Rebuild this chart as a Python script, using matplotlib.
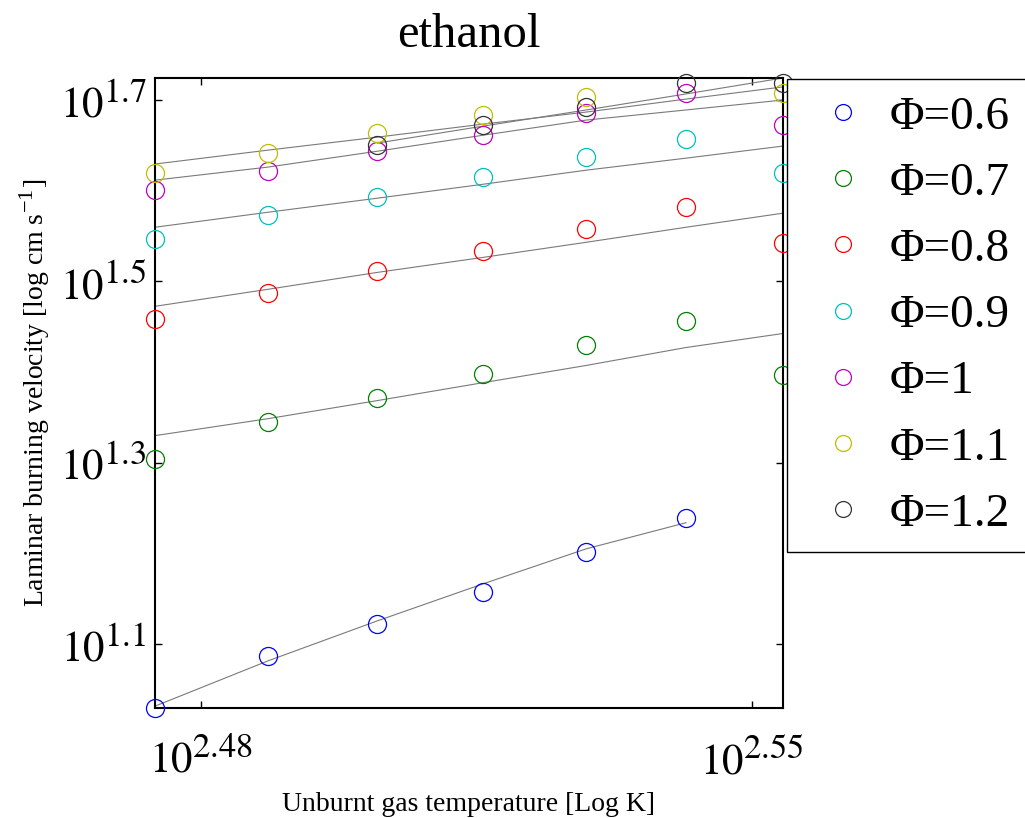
import numpy as np
import matplotlib.pyplot as plt
import matplotlib._mathtext as mathtext_core

plt.rcParams['font.family'] = ['Liberation Serif', 'DejaVu Serif']
plt.rcParams['mathtext.fontset'] = 'stix'
# superscripts in the original are a bit larger than matplotlib's default
mathtext_core.SHRINK_FACTOR = 0.8

# unburnt gas temperature [K]
T = [298, 308, 318, 328, 338, 348, 358]

# measured laminar burning velocity [cm/s], nan = no point
phi_06 = [10.70, 12.21, 13.25, 14.37, 15.91, 17.35, np.nan]
phi_07 = [20.16, 22.14, 23.54, 25.02, 26.87, 28.56, 24.90]
phi_08 = [28.71, 30.67, 32.43, 34.13, 36.10, 38.18, 34.83]
phi_09 = [35.19, 37.41, 39.16, 41.20, 43.35, 45.38, 41.62]
phi_10 = [39.86, 41.83, 44.01, 45.84, 48.48, 51.03, 47.03]
phi_11 = [41.62, 43.79, 46.08, 48.24, 50.51, np.nan, 51.03]
phi_12 = [np.nan, np.nan, 44.70, 47.03, 49.23, 52.34, 52.34]

# fitted curves (gray lines)
fit_06 = [10.75, 12.06, 13.35, 14.67, 16.03, 17.13, np.nan]
fit_07 = [21.37, 22.31, 23.36, 24.45, 25.54, 26.73, 27.70]
fit_08 = [29.68, 30.99, 32.35, 33.61, 34.92, 36.28, 37.60]
fit_09 = [36.28, 37.69, 39.06, 40.47, 41.94, 43.24, 44.59]
fit_10 = [40.89, 42.27, 44.01, 45.84, 47.63, 48.87, 50.12]
fit_11 = [42.60, 44.13, 45.61, 47.15, 48.61, 50.24, 51.82]
fit_12 = [np.nan, np.nan, 44.93, 46.91, 48.87, 50.90, 53.01]

labels = ['Φ=0.6', 'Φ=0.7', 'Φ=0.8', 'Φ=0.9', 'Φ=1', 'Φ=1.1', 'Φ=1.2']
colors = ['b', 'g', 'r', 'c', 'm', 'y', '#333333']

data = [phi_06, phi_07, phi_08, phi_09, phi_10, phi_11, phi_12]
fits = [fit_06, fit_07, fit_08, fit_09, fit_10, fit_11, fit_12]

fig = plt.figure(figsize=(10.25, 8.18), dpi=100)
ax = fig.add_axes([0.1512, 0.1345, 0.6127, 0.7702])

handles = []
for y, f, c, lab in zip(data, fits, colors, labels):
    h, = ax.plot(T, y, 'o', mfc='none', mec=c, ms=13, mew=0.9,
                 label=lab, clip_on=False, zorder=3)
    ax.plot(T, f, '-', color='#7a7a7a', lw=0.8, zorder=2)
    handles.append(h)

ax.set_xscale('log')
ax.set_yscale('log')
ax.set_xlim(min(T), max(T))
ymin = np.nanmin(data + fits)
ymax = np.nanmax(data + fits)
ax.set_ylim(ymin, ymax)

ax.set_xticks([10**2.48, 10**2.55], ['$10^{2.48}$', '$10^{2.55}$'])
ax.set_yticks([10**1.1, 10**1.3, 10**1.5, 10**1.7],
              ['$10^{1.1}$', '$10^{1.3}$', '$10^{1.5}$', '$10^{1.7}$'])
ax.xaxis.set_minor_locator(plt.NullLocator())
ax.yaxis.set_minor_locator(plt.NullLocator())
ax.tick_params(direction='in', top=True, right=True, length=5, width=1,
               labelsize=31)
ax.tick_params(axis='x', pad=22)
ax.tick_params(axis='y', pad=6)
for s in ax.spines.values():
    s.set_linewidth(1.5)

ax.set_title('ethanol', fontsize=35, pad=22)
ax.set_xlabel('Unburnt gas temperature [Log K]', fontsize=20, labelpad=7)
ax.set_ylabel('Laminar burning velocity [log cm s$^{\\mathregular{-1}}$]', fontsize=20, labelpad=6)

leg = fig.legend(handles=handles, loc='upper left',
                 bbox_to_anchor=(787 / 1025, 1 - 79 / 818), borderaxespad=0,
                 fontsize=34, frameon=True, fancybox=False, framealpha=1,
                 edgecolor='black', borderpad=0.35, handlelength=1.67,
                 handletextpad=0.16, labelspacing=0.49, markerscale=0.88)
leg.get_frame().set_linewidth(1.0)

fig.savefig('out.png', dpi=100)
